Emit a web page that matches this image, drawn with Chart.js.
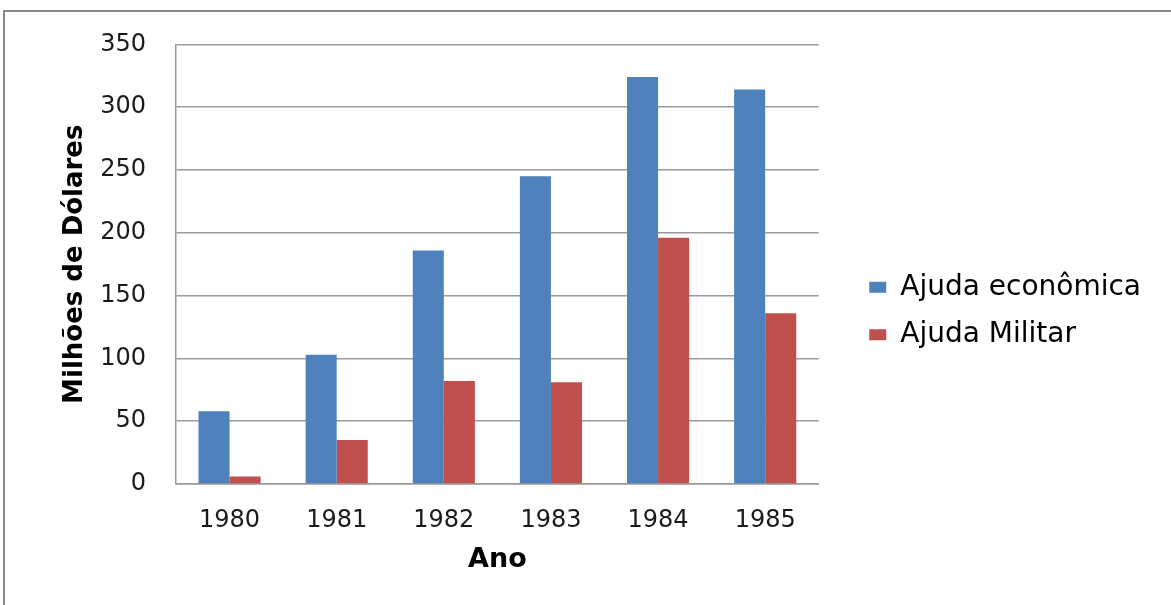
<!DOCTYPE html>
<html>
<head>
<meta charset="utf-8">
<script src="https://cdn.jsdelivr.net/npm/chart.js@4.4.0/dist/chart.umd.min.js"></script>
<style>
  body { margin: 0; background: #fff; }
  #frame {
    position: absolute; left: 3px; top: 10px; width: 1200px; height: 700px;
    border-left: 2px solid #8a8a8a; border-top: 2px solid #8a8a8a;
  }
  #grafico { position: absolute; left: 0; top: 0; }
</style>
</head>
<body>
<div id="frame"></div>
<canvas id="grafico" width="1171" height="605"></canvas>
<script>
// Dados
const anos = ['1980', '1981', '1982', '1983', '1984', '1985'];
const ajudaEconomica = [58, 103, 186, 245, 324, 314];
const ajudaMilitar = [6, 35, 82, 81, 196, 136];

const corGrade = '#9a9a9a';

const config = {
    type: 'bar',
    data: {
        labels: anos,
        datasets: [
            {
                label: 'Ajuda econômica',
                data: ajudaEconomica,
                backgroundColor: '#4F81BD',
                categoryPercentage: 0.58,
                barPercentage: 1.0
            },
            {
                label: 'Ajuda Militar',
                data: ajudaMilitar,
                backgroundColor: '#C0504D',
                categoryPercentage: 0.58,
                barPercentage: 1.0
            }
        ]
    },
    options: {
        responsive: false,
        animation: false,
        layout: {
            padding: { top: 42, bottom: 25, left: 56, right: 20 }
        },
        plugins: {
            tooltip: { enabled: false },
            legend: {
                position: 'right',
                maxWidth: 400,
                labels: {
                    boxWidth: 17,
                    boxHeight: 11,
                    padding: 19.5,
                    color: '#000',
                    font: { family: 'DejaVu Sans', size: 28 }
                }
            }
        },
        scales: {
            x: {
                grid: { display: false, drawTicks: false },
                border: { color: corGrade, width: 1.5 },
                ticks: {
                    padding: 22,
                    color: '#1a1a1a',
                    font: { family: 'DejaVu Sans', size: 24 }
                },
                title: {
                    display: true,
                    text: 'Ano',
                    color: '#000',
                    padding: { top: 10, bottom: 4 },
                    font: { family: 'DejaVu Sans', size: 27, weight: 'bold' }
                },
                afterFit: (scale) => { scale.height = 96; }
            },
            y: {
                min: 0,
                max: 350,
                grid: { color: corGrade, lineWidth: 1.5, drawTicks: false },
                border: { color: corGrade, width: 1.5 },
                ticks: {
                    stepSize: 50,
                    padding: 30,
                    color: '#1a1a1a',
                    font: { family: 'DejaVu Sans', size: 24 }
                },
                title: {
                    display: true,
                    text: 'Milhões de Dólares',
                    color: '#000',
                    padding: { top: 4, bottom: 10 },
                    font: { family: 'DejaVu Sans', size: 26, weight: 'bold' }
                },
                afterFit: (scale) => { scale.width = 120; }
            },
            // eixo vazio só para afastar a legenda da área do gráfico
            folga: {
                position: 'right',
                grid: { display: false },
                border: { display: false },
                ticks: { display: false },
                afterFit: (scale) => { scale.width = 31; }
            }
        }
    }
};

new Chart(document.getElementById('grafico').getContext('2d'), config);
</script>
</body>
</html>
